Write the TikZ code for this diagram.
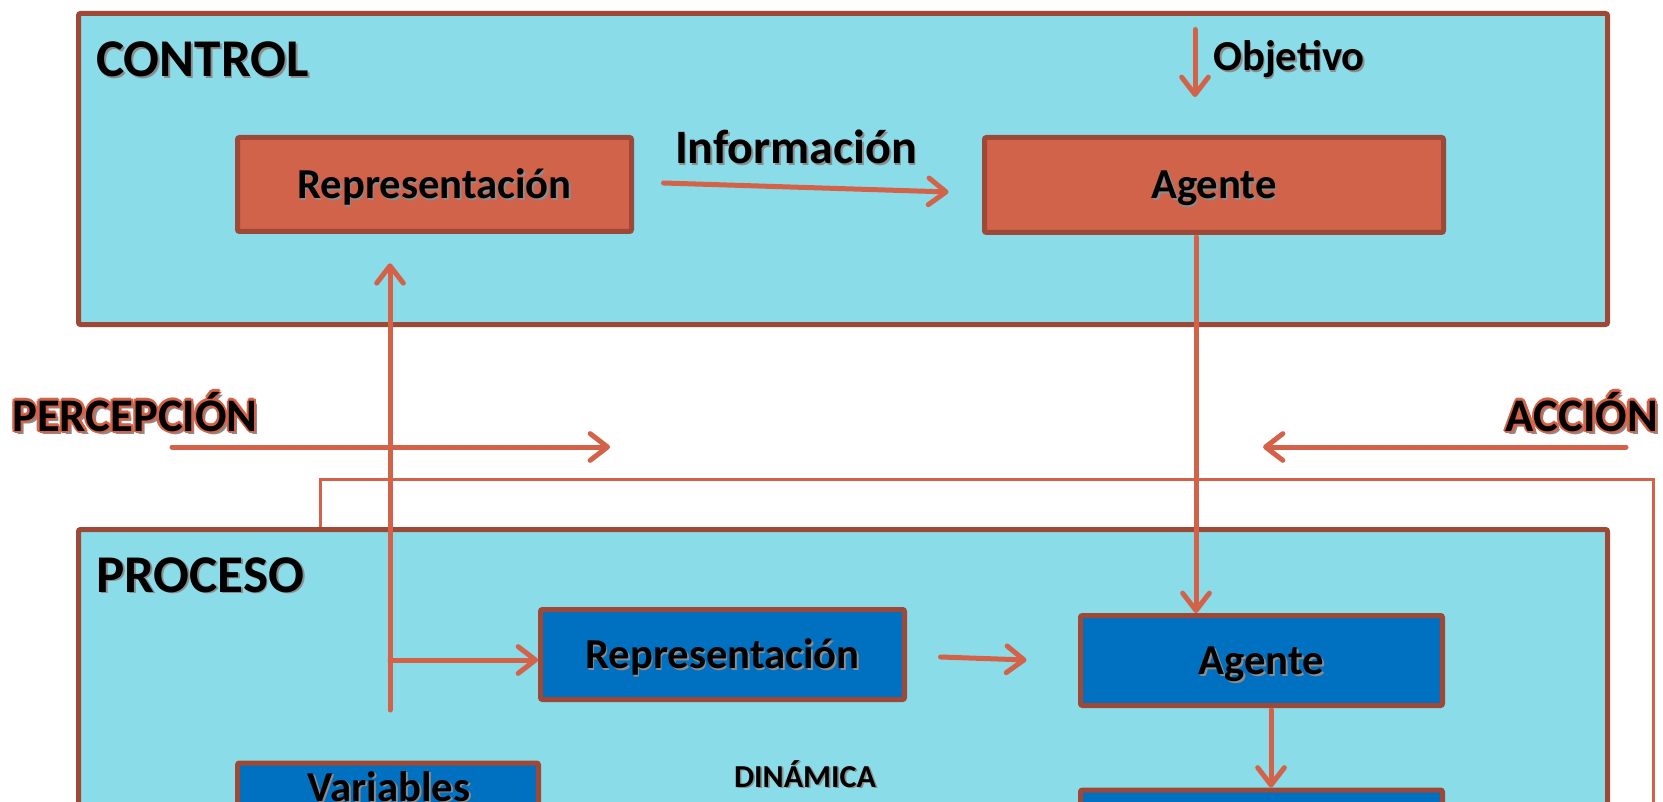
\documentclass[tikz,border=0pt]{standalone}
\usepackage{fontspec}
\setmainfont{Carlito}
\usepackage{xcolor}
\usepackage{tikz}
\usetikzlibrary{arrows.meta,calc}
\definecolor{panelfill}{RGB}{138,221,232}
\definecolor{edgebrown}{RGB}{158,72,56}
\definecolor{boxorange}{RGB}{209,99,74}
\definecolor{boxblue}{RGB}{0,112,192}
\definecolor{arrowc}{RGB}{212,98,72}
\definecolor{shadowc}{RGB}{140,140,140}

% text with a soft drop shadow
\newcommand{\shd}[1]{\leavevmode\rlap{\kern1.3pt\raisebox{-1.3pt}{\textcolor{shadowc}{#1}}}#1}
% text with an orange glow and a drop shadow
\newcommand{\glwcopy}[3]{\rlap{\kern#1\raisebox{#2}{\textcolor{arrowc}{#3}}}}
\newcommand{\glw}[1]{\leavevmode\rlap{\kern2.4pt\raisebox{-2.4pt}{\textcolor{shadowc}{#1}}}%
  \glwcopy{1.6pt}{0pt}{#1}\glwcopy{-1.6pt}{0pt}{#1}\glwcopy{0pt}{1.6pt}{#1}\glwcopy{0pt}{-1.6pt}{#1}%
  \glwcopy{1.15pt}{1.15pt}{#1}\glwcopy{-1.15pt}{1.15pt}{#1}\glwcopy{1.15pt}{-1.15pt}{#1}\glwcopy{-1.15pt}{-1.15pt}{#1}#1}

\tikzset{
  panel/.style={draw=edgebrown, fill=panelfill, line width=3.75pt, rounded corners=1.5pt},
  ctrlbox/.style={draw=edgebrown, fill=boxorange, line width=3.75pt, rounded corners=1.5pt,
    inner sep=0pt, text height=20.8pt, text depth=0pt,
    font=\bfseries\fontsize{32}{36}\selectfont},
  procbox/.style={ctrlbox, fill=boxblue},
  flow/.style={draw=arrowc, line width=3.75pt, line cap=round,
    -{Straight Barb[length=13pt,width=20pt,round]}},
  wire/.style={draw=arrowc, line width=2.25pt},
  paneltitle/.style={inner sep=0pt, font=\bfseries\fontsize{39.8}{44}\selectfont},
  sidelabel/.style={inner sep=0pt, font=\bfseries\fontsize{35}{40}\selectfont},
  midlabel/.style={inner sep=0pt, font=\bfseries\fontsize{36}{40}\selectfont},
  boxlabel/.style={inner sep=0pt, font=\bfseries\fontsize{32}{36}\selectfont},
  dynlabel/.style={inner sep=0pt, font=\bfseries\fontsize{24}{28}\selectfont},
}

\begin{document}
\begin{tikzpicture}[x=0.75pt,y=0.75pt,yscale=-1,xscale=1]
\useasboundingbox (0,0) rectangle (1663,802);
\clip (0,0) rectangle (1663,802);

%Shape: Rectangle (CONTROL and PROCESO)
\draw[panel] (78.5,13.5) rectangle (1607.5,324.5);
\draw[panel] (78.5,529.5) rectangle (1607.5,900);

%Straight Lines (loop back from PROCESO)
\coordinate (wireA) at (320,527);
\coordinate (wireB) at (1653,479);
\coordinate (wireC) at (1653,820);
\draw[wire] (wireA) |- (wireB) -- (wireC);

%Shape: Boxes
\node[ctrlbox, minimum width=295.5pt, minimum height=70.5pt] (repc) at (434.5,184.5) {\shd{Representación}};
\node[ctrlbox, minimum width=344.25pt, minimum height=71.25pt] (agc) at (1214,185) {\shd{Agente}};
\node[procbox, minimum width=273pt, minimum height=67.5pt] (repp) at (722.5,654.5) {\shd{Representación}};
\node[procbox, minimum width=271.5pt, minimum height=67.5pt] (agp) at (1261.5,660.5) {\shd{Agente}};
\node[procbox, minimum width=271.5pt, minimum height=67.5pt, anchor=north] (actp) at (1261.5,787.5) {};
\node[procbox, minimum width=225.75pt, minimum height=82.5pt, anchor=north] (varp) at (388,760.5) {};

%Straight Lines (PERCEPCIÓN and ACCIÓN)
\coordinate (percA) at (172,447);
\coordinate (percB) at (610,447);
\draw[flow] (percA) -- (percB);
\coordinate (accA) at (1626,447);
\coordinate (accB) at (1263,447);
\draw[flow] (accA) -- (accB);

%Straight Lines (arrows between boxes)
\draw[flow] ($(repc.east)+(29.5,-1.5)$) -- ($(agc.west)+(-33.5,7)$);
\coordinate (objA) at ($(agc.north)+(-19,-105.5)$);
\draw[flow] (objA) -- ($(agc.north)+(-19,-38)$);
\coordinate (dropA) at ($(agc.south)+(-18,2)$);
\draw[flow] (dropA) -- (dropA |- agp.north);
\coordinate (upA) at (390,710);
\draw[flow, shorten >=22pt] (upA) -- (upA |- repc.south);
\coordinate (brA) at (390,660);
\draw[flow] (brA) -- (brA -| repp.west);
\draw[flow] ($(repp.east)+(33.5,2.5)$) -- ($(agp.west)+(-51.5,-0.5)$);
\coordinate (dropB) at ($(agp.south)+(9.5,2)$);
\draw[flow] (dropB) -- (dropB |- actp.north);

% Text Node
\node[paneltitle, anchor=base west] (control) at (96,77) {\shd{CONTROL}};
% Text Node
\node[paneltitle, anchor=base west] (proceso) at (96,592) {\shd{PROCESO}};
% Text Node
\node[sidelabel, anchor=base west] (percepcion) at (12,431) {\glw{PERCEPCIÓN}};
% Text Node
\node[sidelabel, anchor=base east] (accion) at (1658,431) {\glw{ACCIÓN}};
% Text Node
\node[midlabel, anchor=base] (info) at (796,164) {\shd{Información}};
% Text Node
\node[boxlabel, anchor=base west] (objetivo) at (1213,71) {\shd{Objetivo}};
% Text Node
\node[dynlabel, anchor=base] (dinamica) at (805,787) {\shd{DINÁMICA}};
% Text Node
\node[boxlabel, anchor=base] (variables) at (389,801) {\shd{Variables}};

\end{tikzpicture}
\end{document}
